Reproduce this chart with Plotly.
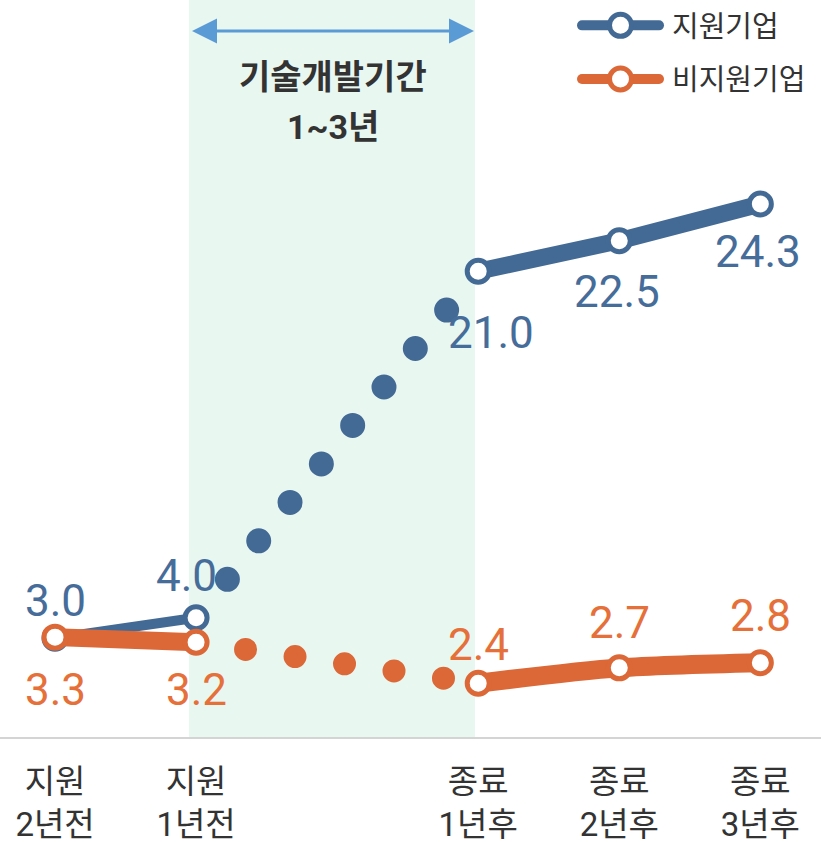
import plotly.graph_objects as go

# ---------------- data ----------------
categories = ["지원<br>2년전", "지원<br>1년전", "종료<br>1년후", "종료<br>2년후", "종료<br>3년후"]
x_pos = [0, 1, 3, 4, 5]
support = [3.0, 4.0, 21.0, 22.5, 24.3]
non_support = [3.3, 3.2, 2.4, 2.7, 2.8]
series_names = ["지원기업", "비지원기업"]
period_text = ["기술개발기간", "1~3년"]

# ---------------- style ----------------
BLUE = "#436a94"
ORANGE = "#db6836"
BLUE_TXT = "#466d9a"
ORANGE_TXT = "#e6703a"
BAND = "#e9f7f1"
ARROW = "#5b9bd5"
DARK = "#333333"
FONT = "Roboto, Noto Sans CJK KR, sans-serif"

W, H = 821, 842
B_MARGIN = 105
PLOT_H = H - B_MARGIN

# label offsets (pixels: xshift, yshift)
blue_off = [(0, 37), (-10, 42), (13, -62), (-2, -51), (-2, -48)]
orange_off = [(0, -53), (0, -48), (0, 38), (0, 45), (0, 47)]

marker = dict(size=22, color="white", line=dict(width=5))

fig = go.Figure()

# dotted connectors (development period)
fig.add_trace(go.Scatter(
    x=x_pos[1:3], y=support[1:3], mode="lines",
    line=dict(color=BLUE, width=25, dash="0px,49.6px"),
    showlegend=False, hoverinfo="skip"))
fig.add_trace(go.Scatter(
    x=x_pos[1:3], y=non_support[1:3], mode="lines", yaxis="y2",
    line=dict(color=ORANGE, width=23, dash="0px,50px"),
    showlegend=False, hoverinfo="skip"))

# support companies
fig.add_trace(go.Scatter(
    x=x_pos[:2], y=support[:2], mode="lines+markers",
    line=dict(color=BLUE, width=10),
    marker=dict(marker, line=dict(color=BLUE, width=5)),
    showlegend=False, name=series_names[0]))
fig.add_trace(go.Scatter(
    x=x_pos[2:], y=support[2:], mode="lines+markers",
    line=dict(color=BLUE, width=17),
    marker=dict(marker, line=dict(color=BLUE, width=5)),
    name=series_names[0], legendgroup="a"))

# non-support companies
fig.add_trace(go.Scatter(
    x=x_pos[:2], y=non_support[:2], mode="lines+markers", yaxis="y2",
    line=dict(color=ORANGE, width=18),
    marker=dict(marker, line=dict(color=ORANGE, width=5)),
    showlegend=False, name=series_names[1]))
fig.add_trace(go.Scatter(
    x=x_pos[2:], y=non_support[2:], mode="lines+markers", yaxis="y2",
    line=dict(color=ORANGE, width=19, shape="spline", smoothing=0.8),
    marker=dict(marker, line=dict(color=ORANGE, width=5)),
    name=series_names[1], legendgroup="b"))

annotations = []
for xv, v, (dx, dy) in zip(x_pos, support, blue_off):
    annotations.append(dict(x=xv, y=v, xref="x", yref="y", text=f"{v:.1f}",
                            showarrow=False, xshift=dx, yshift=dy,
                            xanchor="center", yanchor="middle",
                            font=dict(family=FONT, size=44, color=BLUE_TXT)))
for xv, v, (dx, dy) in zip(x_pos, non_support, orange_off):
    annotations.append(dict(x=xv, y=v, xref="x", yref="y2", text=f"{v:.1f}",
                            showarrow=False, xshift=dx, yshift=dy,
                            xanchor="center", yanchor="middle",
                            font=dict(family=FONT, size=44, color=ORANGE_TXT)))

# development period text
for t, ypx in zip(period_text, [77, 127]):
    annotations.append(dict(x=333 / W, y=1 - ypx / PLOT_H, xref="paper", yref="paper",
                            xanchor="center", yanchor="middle",
                            text=f"<b>{t}</b>", showarrow=False,
                            font=dict(family=FONT, size=34, color=DARK)))

arrow_y = 1 - 31 / PLOT_H
shapes = [
    dict(type="rect", xref="paper", yref="paper", x0=189 / W, x1=475 / W, y0=0, y1=1,
         fillcolor=BAND, line=dict(width=0), layer="below"),
    dict(type="line", xref="paper", yref="paper", x0=214 / W, x1=452 / W,
         y0=arrow_y, y1=arrow_y, line=dict(color=ARROW, width=3)),
    dict(type="path", xref="paper", yref="paper", xsizemode="pixel", ysizemode="pixel",
         xanchor=190 / W, yanchor=arrow_y, path="M2,0 L27,12.5 L27,-12.5 Z",
         fillcolor=ARROW, line=dict(width=0)),
    dict(type="path", xref="paper", yref="paper", xsizemode="pixel", ysizemode="pixel",
         xanchor=476 / W, yanchor=arrow_y, path="M-2,0 L-27,12.5 L-27,-12.5 Z",
         fillcolor=ARROW, line=dict(width=0)),
]

fig.update_layout(
    width=W, height=H,
    margin=dict(l=0, r=0, t=0, b=B_MARGIN, pad=0, autoexpand=False),
    paper_bgcolor="white", plot_bgcolor="white",
    font=dict(family=FONT, color=DARK),
    xaxis=dict(range=[-0.39, 5.43], tickvals=x_pos, ticktext=categories,
               showgrid=False, zeroline=False, showline=True,
               linecolor="#d4d4d4", linewidth=2,
               ticks="outside", ticklen=14, tickcolor="rgba(0,0,0,0)",
               tickfont=dict(family=FONT, size=33, color=DARK), fixedrange=True),
    yaxis=dict(range=[-1.85, 34.31], visible=False, fixedrange=True),
    yaxis2=dict(range=[1.35, 15.74], overlaying="y", visible=False, fixedrange=True),
    legend=dict(x=577 / W, y=1.0, xanchor="left", yanchor="top",
                xref="paper", yref="paper",
                font=dict(family=FONT, size=29, color=DARK),
                itemwidth=77, tracegroupgap=13, bgcolor="rgba(0,0,0,0)",
                traceorder="grouped"),
    annotations=annotations,
    shapes=shapes,
    showlegend=True,
)

post = """
document.documentElement.style.margin='0';
document.body.style.margin='0';
document.body.style.padding='0';
document.body.style.overflow='hidden';
var s=document.createElement('style');
s.textContent='.js-line{stroke-linecap:round !important;stroke-linejoin:round !important;}'+
  '.legend .legendtext{transform:translate(8px,0px);}';
document.head.appendChild(s);
function bigLegendMarkers(){
  document.querySelectorAll('.legend .legendpoints path.scatterpts').forEach(function(p){
    p.setAttribute('d','M11,0A11,11 0 1,1 0,-11A11,11 0 0,1 11,0Z');
    p.style.strokeWidth='5px';
  });
}
bigLegendMarkers();
var gd=document.querySelector('.plotly-graph-div');
if(gd && gd.on){ gd.on('plotly_afterplot', bigLegendMarkers); }
"""
fig.write_html("out.html", post_script=post,
               config={"displayModeBar": False, "staticPlot": False})
